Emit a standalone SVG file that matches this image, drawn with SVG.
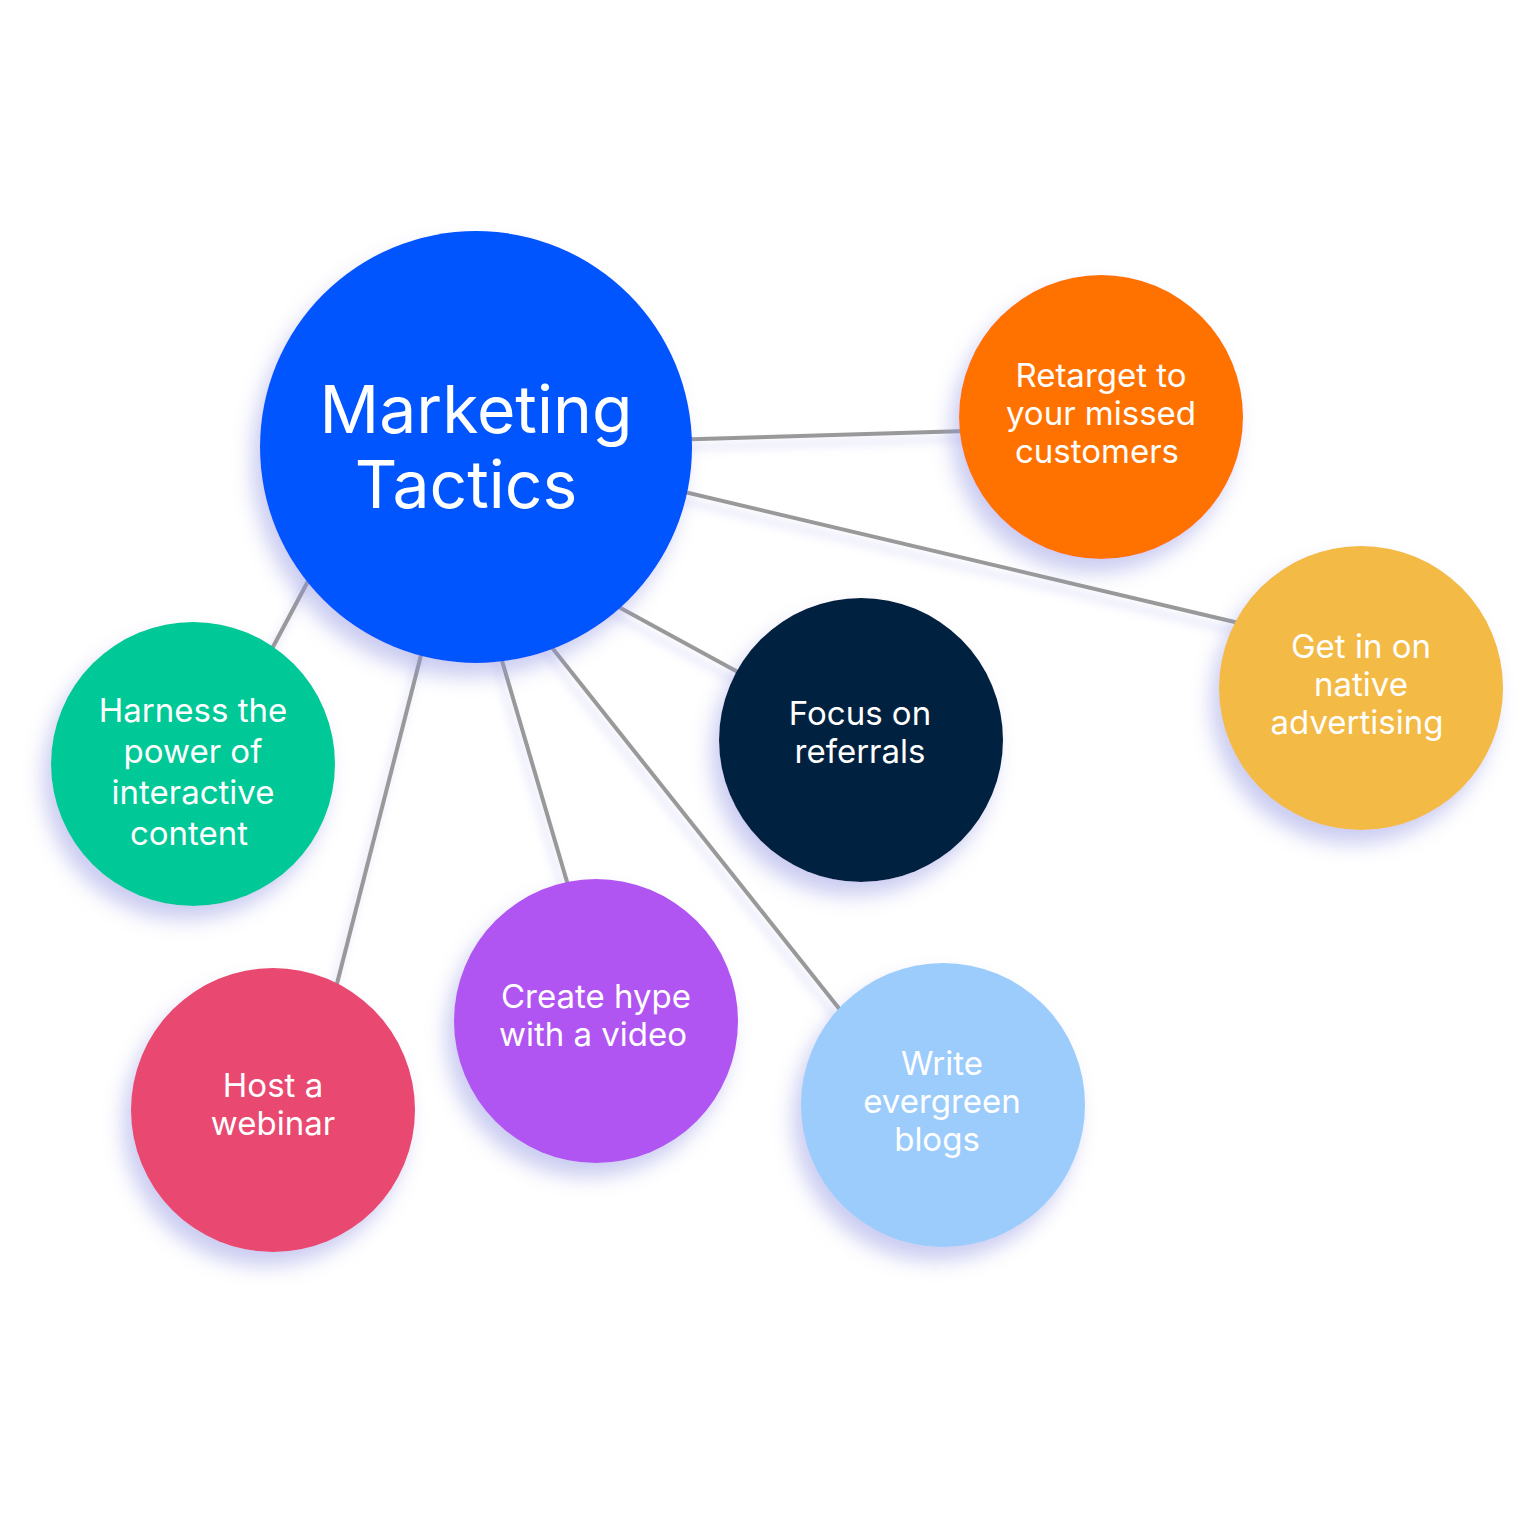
<svg xmlns="http://www.w3.org/2000/svg" width="1536" height="1536" viewBox="0 0 1536 1536">
<defs>
<filter id="sh" x="-30%" y="-30%" width="160%" height="170%">
<feDropShadow dx="-8" dy="14" stdDeviation="10" flood-color="#8c8fe0" flood-opacity="0.45"/>
</filter>
<filter id="lsh" x="-10%" y="-10%" width="120%" height="120%">
<feDropShadow dx="-4" dy="8" stdDeviation="5" flood-color="#a0a4e8" flood-opacity="0.4"/>
</filter>
</defs>
<style>
.l{stroke:#999;stroke-width:4;fill:none}
.t{font-family:Inter,"Liberation Sans",sans-serif;fill:#fff;text-anchor:middle;font-size:33px}
.c{filter:url(#sh)}
</style>
<rect width="1536" height="1536" fill="#fff"/>
<g id="connectors" filter="url(#lsh)">
<line class="l" x1="600" y1="442" x2="1000" y2="430"/>
<line class="l" x1="600" y1="472" x2="1260" y2="628"/>
<line class="l" x1="560" y1="575" x2="780" y2="695"/>
<line class="l" x1="330" y1="540" x2="250" y2="690"/>
<line class="l" x1="430" y1="620" x2="320" y2="1050"/>
<line class="l" x1="490" y1="620" x2="590" y2="960"/>
<line class="l" x1="530" y1="620" x2="880" y2="1060"/>
</g>
<g id="center"><circle class="c" cx="476" cy="447" r="216" fill="#0055FF"/>
<text class="t" style="font-size:66px"><tspan x="476" y="433">Marketing</tspan><tspan x="466" y="508">Tactics</tspan></text></g>
<g id="retarget"><circle class="c" cx="1101" cy="417" r="142" fill="#FF7200"/>
<text class="t"><tspan x="1101" y="387">Retarget to</tspan><tspan x="1101" y="425">your missed</tspan><tspan x="1097" y="463">customers</tspan></text></g>
<g id="native"><circle class="c" cx="1361" cy="688" r="142" fill="#F3BA44"/>
<text class="t"><tspan x="1361" y="658">Get in on</tspan><tspan x="1361" y="696">native</tspan><tspan x="1357" y="734">advertising</tspan></text></g>
<g id="referrals"><circle class="c" cx="861" cy="740" r="142" fill="#03213F"/>
<text class="t"><tspan x="860" y="725">Focus on</tspan><tspan x="860" y="763">referrals</tspan></text></g>
<g id="interactive"><circle class="c" cx="193" cy="764" r="142" fill="#00C897"/>
<text class="t"><tspan x="193" y="722">Harness the</tspan><tspan x="193" y="763">power of</tspan><tspan x="193" y="804">interactive</tspan><tspan x="189" y="845">content</tspan></text></g>
<g id="webinar"><circle class="c" cx="273" cy="1110" r="142" fill="#E9496F"/>
<text class="t"><tspan x="273" y="1097">Host a</tspan><tspan x="273" y="1135">webinar</tspan></text></g>
<g id="video"><circle class="c" cx="596" cy="1021" r="142" fill="#B155F2"/>
<text class="t"><tspan x="596" y="1008">Create hype</tspan><tspan x="593" y="1046">with a video</tspan></text></g>
<g id="blogs"><circle class="c" cx="943" cy="1105" r="142" fill="#9CCCFC"/>
<text class="t"><tspan x="942" y="1075">Write</tspan><tspan x="942" y="1113">evergreen</tspan><tspan x="937" y="1151">blogs</tspan></text></g>
</svg>
